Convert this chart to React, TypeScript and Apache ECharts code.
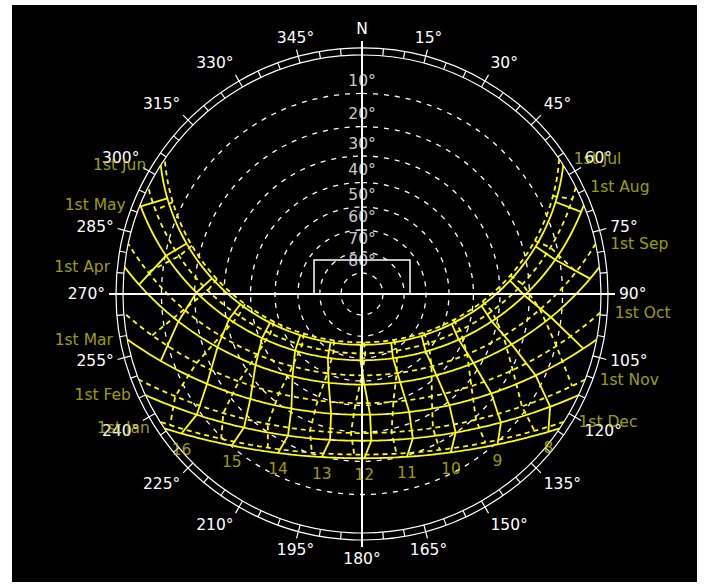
import React, { useEffect, useRef } from "react";
import * as echarts from "echarts";

// ---- data ----
const LATITUDE = 46; // degrees north
const FIRST_HALF_DATES = ["1st Jan", "1st Feb", "1st Mar", "1st Apr", "1st May", "1st Jun"];
const FIRST_HALF_DECLINATION = [-23.0, -17.1, -7.6, 4.5, 15.0, 22.0];
const FIRST_HALF_EQ_OF_TIME = [-3.3, -13.6, -12.4, -4.0, 2.9, 2.2]; // minutes
const SECOND_HALF_DATES = ["1st Jul", "1st Aug", "1st Sep", "1st Oct", "1st Nov", "1st Dec"];
const SECOND_HALF_DECLINATION = [23.1, 18.1, 8.4, -3.1, -14.4, -21.8];
const SECOND_HALF_EQ_OF_TIME = [-3.7, -6.3, -0.1, 10.2, 16.4, 11.0]; // minutes
const HOURS = [4, 5, 6, 7, 8, 9, 10, 11, 12, 13, 14, 15, 16, 17, 18, 19, 20];
const LABELLED_HOURS = [8, 9, 10, 11, 12, 13, 14, 15, 16];
const ALTITUDES = [10, 20, 30, 40, 50, 60, 70, 80];
const BEARING_TICK_STEP = 5;
const BEARING_LABEL_STEP = 15;

// ---- layout / style ----
const CX = 362;
const CY = 294;
const HORIZON_PX = 239;
const RING_PX = 246;
const CROSS_PX = 253;
const MAX_PX = 255;
const R_MAX = MAX_PX / HORIZON_PX;
const YELLOW = "#ffff00";
const LABEL_YELLOW = "#c8c800";
const FONT = "'DejaVu Sans', 'Liberation Sans', Arial, sans-serif";
const FONT_SIZE = 15.5;

const D2R = Math.PI / 180;

function sun(decl: number, ha: number) {
  const p = LATITUDE * D2R;
  const d = decl * D2R;
  const h = ha * D2R;
  const sa = Math.sin(p) * Math.sin(d) + Math.cos(p) * Math.cos(d) * Math.cos(h);
  const alt = Math.asin(Math.max(-1, Math.min(1, sa)));
  const ca = (Math.sin(d) - sa * Math.sin(p)) / (Math.cos(alt) * Math.cos(p));
  let az = Math.acos(Math.max(-1, Math.min(1, ca))) / D2R;
  if (ha > 0) az = 360 - az;
  return { alt: alt / D2R, az };
}

// stereographic projection, 1 = horizon
function proj(alt: number) {
  return Math.tan(((90 - alt) / 2) * D2R);
}

function halfDayAngle(decl: number) {
  const v = -Math.tan(LATITUDE * D2R) * Math.tan(decl * D2R);
  return Math.acos(Math.max(-1, Math.min(1, v))) / D2R;
}

function datePath(decl: number) {
  const h0 = halfDayAngle(decl);
  const n = 140;
  const pts: number[][] = [];
  for (let k = 0; k <= n; k++) {
    const ha = -h0 + (2 * h0 * k) / n;
    const s = sun(decl, ha);
    pts.push([proj(Math.max(0, s.alt)), s.az]);
  }
  return pts;
}

function hourLine(hour: number, decls: number[], eots: number[]) {
  const pts: number[][] = [];
  decls.forEach((d, i) => {
    const ha = 15 * (hour - 12) + eots[i] / 4;
    const s = sun(d, ha);
    if (s.alt >= 0) pts.push([proj(s.alt), s.az]);
  });
  return pts;
}

function buildOption() {
  const series: any[] = [];

  // altitude circles
  ALTITUDES.forEach((a) => {
    const pts: number[][] = [];
    for (let az = 0; az <= 360; az += 2) pts.push([proj(a), az]);
    series.push({
      type: "line",
      coordinateSystem: "polar",
      polarIndex: 0,
      data: pts,
      symbol: "none",
      silent: true,
      z: 1,
      lineStyle: { color: "#ffffff", width: 1.3, type: [5, 6] },
    });
  });

  const groups = [
    { decl: FIRST_HALF_DECLINATION, eot: FIRST_HALF_EQ_OF_TIME, dash: "solid" as any },
    { decl: SECOND_HALF_DECLINATION, eot: SECOND_HALF_EQ_OF_TIME, dash: [5, 4] as any },
  ];

  groups.forEach((g) => {
    g.decl.forEach((d) => {
      series.push({
        type: "line",
        coordinateSystem: "polar",
        polarIndex: 0,
        data: datePath(d),
        symbol: "none",
        silent: true,
        z: 3,
        lineStyle: { color: YELLOW, width: 1.8, type: g.dash },
      });
    });
    HOURS.forEach((h) => {
      const pts = hourLine(h, g.decl, g.eot);
      if (pts.length < 2) return;
      series.push({
        type: "line",
        coordinateSystem: "polar",
        polarIndex: 0,
        data: pts,
        symbol: "none",
        silent: true,
        z: 3,
        lineStyle: { color: YELLOW, width: 1.8, type: g.dash },
      });
    });
  });

  // compass cross
  series.push({
    type: "line",
    coordinateSystem: "polar",
    polarIndex: 0,
    data: [[CROSS_PX / HORIZON_PX, 270], [CROSS_PX / HORIZON_PX, 90]],
    symbol: "none",
    silent: true,
    z: 5,
    lineStyle: { color: "#ffffff", width: 2 },
  });
  series.push({
    type: "line",
    coordinateSystem: "polar",
    polarIndex: 0,
    data: [[CROSS_PX / HORIZON_PX, 0], [CROSS_PX / HORIZON_PX, 180]],
    symbol: "none",
    silent: true,
    z: 5,
    lineStyle: { color: "#ffffff", width: 2 },
  });

  // altitude labels
  series.push({
    type: "scatter",
    coordinateSystem: "polar",
    polarIndex: 0,
    symbolSize: 1,
    itemStyle: { color: "rgba(0,0,0,0)" },
    silent: true,
    z: 6,
    data: ALTITUDES.map((a) => ({ value: [proj(a), 0], name: a + "°" })),
    label: {
      show: true,
      position: "top",
      distance: 4,
      formatter: "{b}",
      color: "#ffffff",
      fontSize: FONT_SIZE,
      fontFamily: FONT,
    },
  });

  // date labels (sunset for Jan-Jun, sunrise for Jul-Dec)
  series.push({
    type: "scatter",
    coordinateSystem: "polar",
    polarIndex: 0,
    symbolSize: 1,
    itemStyle: { color: "rgba(0,0,0,0)" },
    silent: true,
    z: 6,
    data: FIRST_HALF_DECLINATION.map((d, i) => {
      const s = sun(d, halfDayAngle(d));
      return { value: [1, s.az], name: FIRST_HALF_DATES[i] };
    }),
    label: {
      show: true,
      position: "left",
      distance: 14,
      formatter: "{b}",
      color: LABEL_YELLOW,
      fontSize: FONT_SIZE,
      fontFamily: FONT,
    },
  });
  series.push({
    type: "scatter",
    coordinateSystem: "polar",
    polarIndex: 0,
    symbolSize: 1,
    itemStyle: { color: "rgba(0,0,0,0)" },
    silent: true,
    z: 6,
    data: SECOND_HALF_DECLINATION.map((d, i) => {
      const s = sun(d, -halfDayAngle(d));
      return { value: [1, s.az], name: SECOND_HALF_DATES[i] };
    }),
    label: {
      show: true,
      position: "right",
      distance: 14,
      formatter: "{b}",
      color: LABEL_YELLOW,
      fontSize: FONT_SIZE,
      fontFamily: FONT,
    },
  });

  // hour labels under the 1st Jan path
  series.push({
    type: "scatter",
    coordinateSystem: "polar",
    polarIndex: 0,
    symbolSize: 1,
    itemStyle: { color: "rgba(0,0,0,0)" },
    silent: true,
    z: 6,
    data: LABELLED_HOURS.map((h) => {
      const ha = 15 * (h - 12) + FIRST_HALF_EQ_OF_TIME[0] / 4;
      const s = sun(FIRST_HALF_DECLINATION[0], ha);
      return { value: [proj(s.alt), s.az], name: String(h) };
    }),
    label: {
      show: true,
      position: "bottom",
      distance: 8,
      formatter: "{b}",
      color: LABEL_YELLOW,
      fontSize: FONT_SIZE,
      fontFamily: FONT,
    },
  });

  const hiddenRadius = (i: number, max: number) => ({
    polarIndex: i,
    type: "value",
    min: 0,
    max,
    axisLine: { show: false },
    axisTick: { show: false },
    axisLabel: { show: false },
    splitLine: { show: false },
  });
  const baseAngle = {
    type: "value",
    min: 0,
    max: 360,
    startAngle: 90,
    clockwise: true,
    splitLine: { show: false },
    splitArea: { show: false },
  };

  return {
    animation: false,
    backgroundColor: "transparent",
    polar: [
      { center: [CX, CY], radius: MAX_PX },
      { center: [CX, CY], radius: HORIZON_PX },
      { center: [CX, CY], radius: RING_PX },
      { center: [CX, CY], radius: RING_PX },
    ],
    radiusAxis: [hiddenRadius(0, R_MAX), hiddenRadius(1, 1), hiddenRadius(2, 1), hiddenRadius(3, 1)],
    angleAxis: [
      {
        ...baseAngle,
        polarIndex: 0,
        axisLine: { show: false },
        axisTick: { show: false },
        axisLabel: { show: false },
      },
      {
        ...baseAngle,
        polarIndex: 1,
        axisLine: { show: true, lineStyle: { color: "#ffffff", width: 1.2 } },
        axisTick: { show: false },
        axisLabel: { show: false },
      },
      {
        ...baseAngle,
        polarIndex: 2,
        interval: BEARING_TICK_STEP,
        axisLine: { show: true, lineStyle: { color: "#ffffff", width: 1.2 } },
        axisTick: { show: true, inside: true, length: 7, lineStyle: { color: "#ffffff", width: 1.2 } },
        axisLabel: { show: false },
      },
      {
        ...baseAngle,
        polarIndex: 3,
        interval: BEARING_LABEL_STEP,
        axisLine: { show: false },
        axisTick: { show: true, inside: false, length: 7, lineStyle: { color: "#ffffff", width: 1.2 } },
        axisLabel: {
          show: true,
          margin: 11,
          color: "#ffffff",
          fontSize: FONT_SIZE,
          fontFamily: FONT,
          formatter: (v: number) => (v === 0 ? "N" : v === 360 ? "" : v + "°"),
        },
      },
    ],
    graphic: [
      {
        type: "rect",
        shape: { x: 314, y: 260, width: 96, height: 34 },
        style: { stroke: "#ffffff", fill: "none", lineWidth: 1.5 },
        z: 10,
        silent: true,
      },
    ],
    series,
  };
}

export default function App() {
  const ref = useRef<HTMLDivElement>(null);
  useEffect(() => {
    document.body.style.margin = "0";
    if (!ref.current) return;
    const chart = echarts.init(ref.current, undefined, { renderer: "svg" });
    chart.setOption(buildOption() as any);
    return () => chart.dispose();
  }, []);
  return (
    <div style={{ position: "relative", width: 705, height: 585, background: "#ffffff", overflow: "hidden" }}>
      <div style={{ position: "absolute", left: 12, top: 5, width: 685, height: 577, background: "#000000" }} />
      <div ref={ref} style={{ position: "absolute", left: 0, top: 0, width: 705, height: 585 }} />
    </div>
  );
}
